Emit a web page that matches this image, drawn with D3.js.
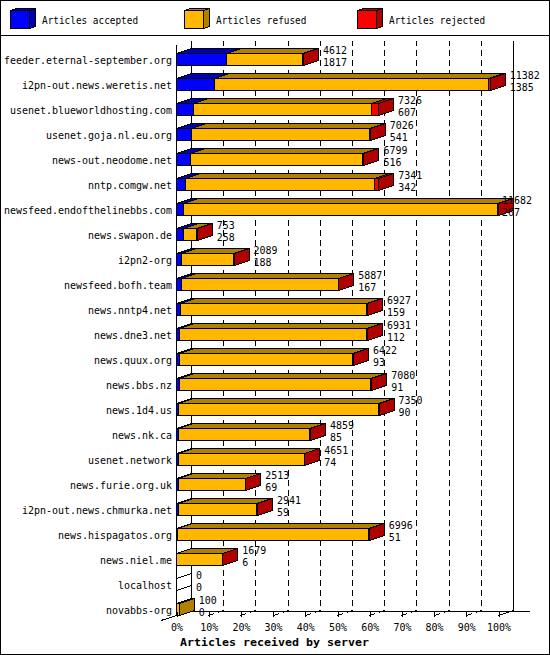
<!DOCTYPE html>
<html><head><meta charset="utf-8">
<script src="https://cdn.jsdelivr.net/npm/d3@7"></script>
<style>
html,body{margin:0;padding:0;background:#fff;}
svg{display:block;}
text{font-family:"DejaVu Sans Mono","Liberation Mono",monospace;fill:#000;}
</style></head>
<body>
<svg id="chart" width="550" height="655"></svg>
<script>
const categories = ["feeder.eternal-september.org","i2pn-out.news.weretis.net","usenet.blueworldhosting.com","usenet.goja.nl.eu.org","news-out.neodome.net","nntp.comgw.net","newsfeed.endofthelinebbs.com","news.swapon.de","i2pn2-org","newsfeed.bofh.team","news.nntp4.net","news.dne3.net","news.quux.org","news.bbs.nz","news.1d4.us","news.nk.ca","usenet.network","news.furie.org.uk","i2pn-out.news.chmurka.net","news.hispagatos.org","news.niel.me","localhost","novabbs-org"];
const totals   = [4612,11382,7326,7026,6799,7341,11682,753,2089,5887,6927,6931,6422,7080,7350,4859,4651,2513,2941,6996,1679,0,100];
const accepted = [1817,1385,607,541,516,342,267,258,188,167,159,112,93,91,90,85,74,69,59,51,6,0,0];
const rejected = [30,70,260,40,40,160,40,25,25,25,30,30,25,30,30,25,25,25,25,30,15,0,0];
const seriesNames  = ["Articles accepted","Articles refused","Articles rejected"];
const seriesColors = ["#0000ff","#ffb700","#ff0000"];
const seriesShades = ["#0000b0","#b08000","#b00000"];
const tickPercents = [0,10,20,30,40,50,60,70,80,90,100];
const axisTitle = "Articles received by server";

(function(){
const svg = d3.select("#chart").attr("shape-rendering","crispEdges");
const W = 550, H = 655;
const DX = 15, DY = 5;           // 3d depth
const pLeft = 176, pRight = 498;   // front 0% .. 100%
const pTop = 45, pBottom = 615;    // front axis extent

// frame
svg.append("rect").attr("x",0.5).attr("y",0.5).attr("width",W-1).attr("height",H-1)
  .attr("fill","#fff").attr("stroke","#000");
svg.append("line").attr("x1",0).attr("x2",W).attr("y1",35.5).attr("y2",35.5).attr("stroke","#000");

// legend
const legend = svg.append("g");
seriesNames.forEach((name,i)=>{
  const gx = 10 + i*173.7, gy = 10, w = 19, h = 18, dx = 6, dy = 2;
  const g = legend.append("g").attr("transform",`translate(${Math.round(gx)+0.5},${gy+0.5})`);
  g.append("polygon").attr("points",`0,0 ${dx},${-dy} ${w+dx},${-dy} ${w},0`)
    .attr("fill",seriesShades[i]).attr("stroke","#000");
  g.append("polygon").attr("points",`${w},0 ${w+dx},${-dy} ${w+dx},${h-dy} ${w},${h}`)
    .attr("fill",seriesShades[i]).attr("stroke","#000");
  g.append("rect").attr("x",0).attr("y",0).attr("width",w).attr("height",h)
    .attr("fill",seriesColors[i]).attr("stroke","#000");
  legend.append("text").attr("x",Math.round(gx)+32).attr("y",20).attr("dy","0.36em")
    .attr("font-size","11px").attr("textLength",name.length*5.65).attr("lengthAdjust","spacingAndGlyphs")
    .text(name);
});

// scales
const maxTotal = d3.max(totals);
const xs = d3.scaleLinear().domain([0,maxTotal]).range([pLeft,pRight]);
const xp = d3.scaleLinear().domain([0,100]).range([pLeft,pRight]);
const ys = d3.scaleBand().domain(categories).range([47,47+25*categories.length]).padding(0);
const barH = 12;
const px = v => Math.round(v)+0.5;

// back wall / grid
const grid = svg.append("g").attr("stroke","#000").attr("fill","none");
tickPercents.forEach(p=>{
  const xf = px(xp(p));
  const solid = (p===0 || p===100);
  grid.append("path")
    .attr("d",`M${xf},${pBottom+0.5} L${xf+DX},${pBottom-DY+0.5} L${xf+DX},${pTop-DY+0.5}`)
    .attr("stroke-dasharray", solid ? null : "6,4");
});
// floor line and front left axis
svg.append("line").attr("x1",pLeft).attr("x2",530).attr("y1",611.5).attr("y2",611.5).attr("stroke","#000");
svg.append("line").attr("x1",px(pLeft)).attr("x2",px(pLeft)).attr("y1",pTop).attr("y2",pBottom+1).attr("stroke","#000");
svg.append("line").attr("x1",161).attr("y1",620.5).attr("x2",px(pLeft)).attr("y2",pBottom+0.5).attr("stroke","#000");

// bars
const bars = svg.append("g");
categories.forEach((cat,i)=>{
  const yT = Math.round(ys(cat)+6)+0.5, yB = yT + barH;
  const g = bars.append("g");
  const segs = [accepted[i], totals[i]-accepted[i]-rejected[i], rejected[i]];
  if (totals[i] === 0) {
    const x0 = px(xs(0));
    g.append("polygon").attr("points",`${x0},${yT} ${x0+DX},${yT-DY} ${x0+DX},${yB-DY} ${x0},${yB}`)
      .attr("fill","#fff").attr("stroke","#000");
  }
  let cum = 0;
  segs.forEach((v,k)=>{
    if (v <= 0) return;
    const x0 = px(xs(cum)), x1 = px(xs(cum+v));
    cum += v;
    g.append("rect").attr("x",x0).attr("y",yT).attr("width",Math.max(0,x1-x0)).attr("height",barH)
      .attr("fill",seriesColors[k]).attr("stroke","#000");
    g.append("polygon").attr("points",`${x0},${yT} ${x1},${yT} ${x1+DX},${yT-DY} ${x0+DX},${yT-DY}`)
      .attr("fill",seriesShades[k]).attr("stroke","#000");
    g.append("polygon").attr("points",`${x1},${yT} ${x1+DX},${yT-DY} ${x1+DX},${yB-DY} ${x1},${yB}`)
      .attr("fill",seriesShades[k]).attr("stroke","#000");
  });
  // value labels
  const endF = xs(totals[i]);
  const s1 = String(totals[i]), s2 = String(accepted[i]);
  let lx = endF + 20;
  if (lx + s1.length*6 > 540) lx = endF + 4;
  const cy = yT + barH/2;
  [[s1,cy-9],[s2,cy+2.5]].forEach(([s,yy])=>{
    svg.append("text").attr("x",lx).attr("y",yy).attr("dy","0.36em")
      .attr("font-size","11px").attr("textLength",s.length*6).attr("lengthAdjust","spacingAndGlyphs")
      .text(s);
  });
  // category label
  svg.append("text").attr("x",172).attr("y",cy+0.5).attr("dy","0.36em").attr("text-anchor","end")
    .attr("font-size","11px").attr("textLength",cat.length*6).attr("lengthAdjust","spacingAndGlyphs")
    .text(cat);
});

// bottom axis (tick labels)
const axis = d3.axisBottom(xp).tickValues(tickPercents).tickFormat(d=>d+"%").tickSize(5).tickPadding(7);
const ag = svg.append("g").attr("transform","translate(0.5,611.5)").call(axis);
ag.select(".domain").remove();
ag.selectAll("line").attr("stroke","#000");
ag.selectAll("text").attr("font-family","DejaVu Sans Mono").attr("font-size","10px")
  .attr("textLength",function(){return this.textContent.length*6;}).attr("lengthAdjust","spacingAndGlyphs")
  .attr("fill","#000");

// axis title
svg.append("text").attr("x",180).attr("y",642).attr("dy","0.36em")
  .attr("font-size","11px").attr("font-weight","bold")
  .attr("textLength",axisTitle.length*7).attr("lengthAdjust","spacingAndGlyphs")
  .text(axisTitle);
})();
</script>
</body></html>
